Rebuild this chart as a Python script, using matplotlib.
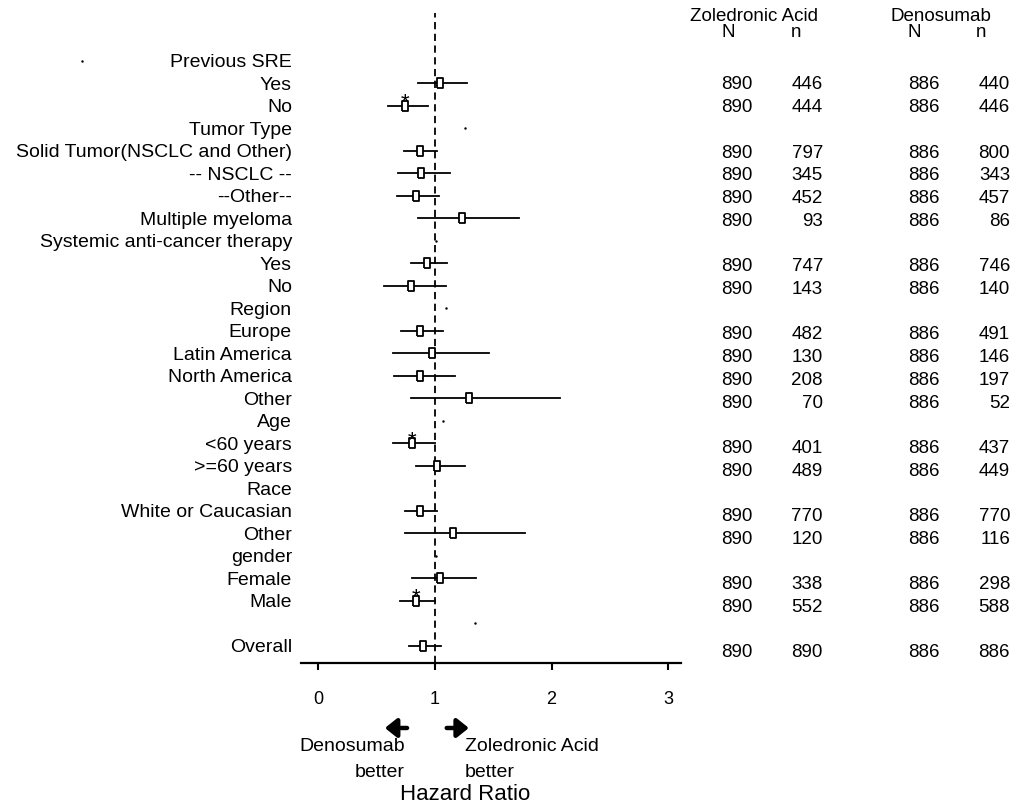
import numpy as np
import matplotlib
matplotlib.use('Agg')
import matplotlib.pyplot as plt

plt.rcParams['font.family'] = ['Liberation Sans', 'DejaVu Sans']

# rows of the forest plot, top to bottom ('' = empty spacer row)
labels = ['Previous SRE', 'Yes', 'No', 'Tumor Type', 'Solid Tumor(NSCLC and Other)',
          '-- NSCLC --', '--Other--', 'Multiple myeloma', 'Systemic anti-cancer therapy',
          'Yes', 'No', 'Region', 'Europe', 'Latin America', 'North America', 'Other',
          'Age', '<60 years', '>=60 years', 'Race', 'White or Caucasian', 'Other',
          'gender', 'Female', 'Male', '', 'Overall']
nan = np.nan
hr = [nan, 1.04, 0.74, nan, 0.87, 0.88, 0.84, 1.23, nan, 0.93, 0.79, nan, 0.87, 0.97,
      0.87, 1.29, nan, 0.80, 1.02, nan, 0.87, 1.15, nan, 1.04, 0.84, nan, 0.90]
ci_lo = [nan, 0.85, 0.60, nan, 0.73, 0.68, 0.67, 0.85, nan, 0.79, 0.56, nan, 0.71, 0.64,
         0.65, 0.79, nan, 0.64, 0.84, nan, 0.74, 0.74, nan, 0.80, 0.70, nan, 0.78]
ci_hi = [nan, 1.27, 0.94, nan, 1.02, 1.13, 1.03, 1.72, nan, 1.10, 1.09, nan, 1.07, 1.46,
         1.17, 2.07, nan, 1.00, 1.26, nan, 1.02, 1.77, nan, 1.35, 1.00, nan, 1.05]
signif_rows = [2, 17, 24]   # No, <60 years, Male
# little stray dots on the header rows of the original
dot_rows = [0, 3, 8, 11, 16, 22, 25]
dot_x = [-2.03, 1.26, 1.01, 1.09, 1.07, 1.01, 1.34]

# N / n table
zol_N = [890] * 19
zol_n = [446, 444, 797, 345, 452, 93, 747, 143, 482, 130, 208, 70, 401, 489, 770, 120, 338, 552, 890]
den_N = [886] * 19
den_n = [440, 446, 800, 343, 457, 86, 746, 140, 491, 146, 197, 52, 437, 449, 770, 116, 298, 588, 886]

rows = np.arange(len(labels))
data_rows = [i for i in rows if not np.isnan(hr[i])]

fig = plt.figure(figsize=(10.14, 8.10), dpi=100)
ax = fig.add_axes([301 / 1014, 0.1815, 380 / 1014, 0.8025])

ax.axvline(1, color='black', lw=1.3, dashes=(4, 2.5), zorder=1)
for i in data_rows:
    ax.plot([ci_lo[i], ci_hi[i]], [i, i], color='black', lw=1.3, zorder=2)
ax.plot([hr[i] for i in data_rows], data_rows, ls='none',
        marker=[(-0.3, -0.5), (0.3, -0.5), (0.3, 0.5), (-0.3, 0.5), (-0.3, -0.5)],
        ms=7.5, mfc='white', mec='black', mew=1.3, zorder=3)
for i in signif_rows:
    ax.annotate('*', (hr[i], i), xytext=(0, 2), textcoords='offset points',
                ha='center', va='center', fontsize=16)
ax.plot(dot_x, dot_rows, ls='none', marker='.', ms=1.5, color='black', clip_on=False)

ax.set_xlim(-0.150, 3.11)
ax.set_ylim(26.76, -2.13)
ax.set_yticks([i for i in rows if labels[i] != ''])
ax.set_yticklabels([l for l in labels if l != ''], fontsize=14)
ax.tick_params(axis='y', length=0, pad=6.5)
ax.set_xticks([0, 1, 2, 3])
ax.set_xticklabels(['0', '1', '2', '3'], fontsize=13)
ax.tick_params(axis='x', length=5, width=1.5, pad=15)
for s in ['top', 'right', 'left']:
    ax.spines[s].set_visible(False)
ax.spines['bottom'].set_linewidth(1.6)

tr = ax.get_xaxis_transform()
arrow = dict(arrowstyle='-|>,head_width=0.28,head_length=0.35', color='black',
             lw=3.2, mutation_scale=20, shrinkA=0, shrinkB=0)
ax.annotate('', xy=(0.57, -0.10), xytext=(0.76, -0.10), xycoords=tr, textcoords=tr,
            arrowprops=arrow)
ax.annotate('', xy=(1.29, -0.10), xytext=(1.10, -0.10), xycoords=tr, textcoords=tr,
            arrowprops=arrow)
ax.text(0.742, -0.129, 'Denosumab', transform=tr, ha='right', va='center', fontsize=14)
ax.text(0.742, -0.169, 'better', transform=tr, ha='right', va='center', fontsize=14)
ax.text(1.258, -0.129, 'Zoledronic Acid', transform=tr, ha='left', va='center', fontsize=14)
ax.text(1.258, -0.169, 'better', transform=tr, ha='left', va='center', fontsize=14)
ax.text(1.258, -0.203, 'Hazard Ratio', transform=tr, ha='center', va='center', fontsize=16)

# numbers table on the right
ax2 = fig.add_axes([680 / 1014, 0.1815, 334 / 1014, 0.8025])
ax2.set_xlim(0, 334)
ax2.set_ylim(26.44, -2.17)
ax2.axis('off')
for k, i in enumerate(data_rows):
    ax2.text(73, i, str(zol_N[k]), ha='right', va='center', fontsize=13.5)
    ax2.text(143, i, str(zol_n[k]), ha='right', va='center', fontsize=13.5)
    ax2.text(260, i, str(den_N[k]), ha='right', va='center', fontsize=13.5)
    ax2.text(330, i, str(den_n[k]), ha='right', va='center', fontsize=13.5)
ax2.text(74.5, -2.0, 'Zoledronic Acid', ha='center', va='center', fontsize=13.5)
ax2.text(260.5, -2.0, 'Denosumab', ha='center', va='center', fontsize=13.5)
for x, t in [(48, 'N'), (116, 'n'), (234, 'N'), (301, 'n')]:
    ax2.text(x, -1.3, t, ha='center', va='center', fontsize=13.5)

fig.savefig('out.png', dpi=100)
